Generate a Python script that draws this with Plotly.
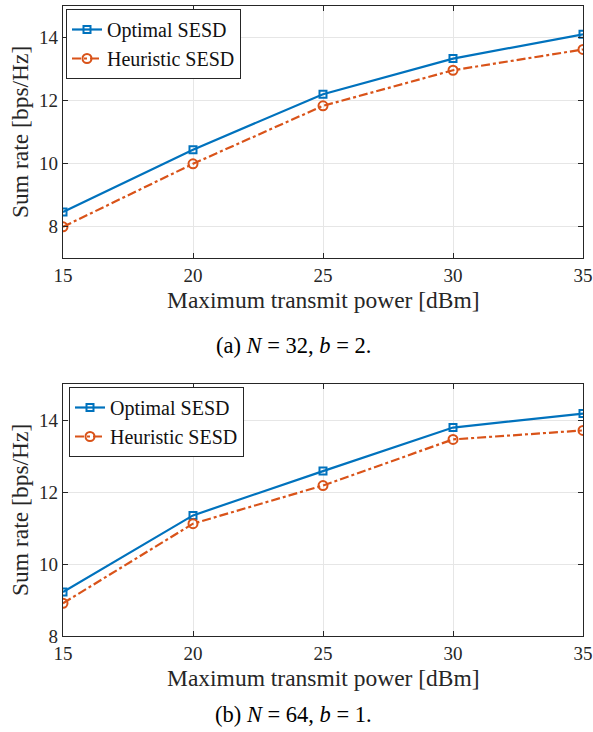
import plotly.graph_objects as go
from plotly.subplots import make_subplots

power_dbm = [15, 20, 25, 30, 35]
x_ticks = [15, 20, 25, 30, 35]

optimal_a = [8.46, 10.44, 12.2, 13.33, 14.1]
heuristic_a = [7.99, 9.99, 11.83, 12.96, 13.62]
optimal_b = [9.22, 11.35, 12.58, 13.79, 14.18]
heuristic_b = [8.91, 11.12, 12.18, 13.46, 13.71]

yticks_a = [8, 10, 12, 14]
yticks_b = [8, 10, 12, 14]

series_names = ["Optimal SESD", "Heuristic SESD"]
captions = ["(a) <i>N</i> = 32, <i>b</i> = 2.", "(b) <i>N</i> = 64, <i>b</i> = 1."]

BLUE = "#0072BD"
ORANGE = "#D95319"
FONT = "Liberation Serif, Times New Roman, serif"
AX = "#262626"

fig = make_subplots(rows=2, cols=1)

def add_pair(row, opt, heu, legend):
    fig.add_trace(go.Scatter(x=power_dbm, y=opt, name=series_names[0], mode="lines+markers",
                             line=dict(color=BLUE, width=2.2),
                             marker=dict(symbol="square-open", size=7, color=BLUE, line=dict(width=2)),
                             legend=legend), row=row, col=1)
    fig.add_trace(go.Scatter(x=power_dbm, y=heu, name=series_names[1], mode="lines+markers",
                             line=dict(color=ORANGE, width=2.2, dash="dashdot"),
                             marker=dict(symbol="circle-open", size=9, color=ORANGE, line=dict(width=2)),
                             legend=legend), row=row, col=1)

add_pair(1, optimal_a, heuristic_a, "legend")
add_pair(2, optimal_b, heuristic_b, "legend2")

W, H = 593, 732
x0, x1 = 63 / W, 583 / W
dom_a = [1 - 258 / H, 1 - 6 / H]
dom_b = [1 - 636 / H, 1 - 384 / H]

axcommon = dict(showline=True, linecolor=AX, linewidth=1.2, mirror="ticks", ticks="inside",
                ticklen=5, tickcolor=AX, showgrid=True, gridcolor="#E6E6E6", gridwidth=1,
                zeroline=False, automargin=False, ticklabeloverflow="allow",
                tickfont=dict(family=FONT, size=19, color=AX))

fig.update_xaxes(**axcommon, range=[15, 35], tickvals=x_ticks, domain=[x0, x1])
fig.update_yaxes(**axcommon)
fig.update_yaxes(range=[7, 15], tickvals=yticks_a, domain=dom_a, row=1, col=1)
fig.update_yaxes(range=[8, 15], tickvals=yticks_b, domain=dom_b, row=2, col=1)

legend_style = dict(bgcolor="white", bordercolor=AX, borderwidth=1,
                    font=dict(family=FONT, size=20, color="#111111"),
                    xanchor="left", yanchor="top", tracegroupgap=0, itemwidth=30)
fig.update_layout(
    width=W, height=H, margin=dict(l=0, r=0, t=0, b=0, pad=0),
    paper_bgcolor="white", plot_bgcolor="white",
    legend=dict(**legend_style, x=66 / W, y=1 - 9 / H),
    legend2=dict(**legend_style, x=69 / W, y=1 - 387 / H),
)

ann = []
caption_y = [345, 714]
for i, (top, bot) in enumerate([(6, 258), (384, 636)]):
    ann.append(dict(text="Maximum transmit power [dBm]", x=(x0 + x1) / 2, y=1 - (bot + 42) / H,
                    xref="paper", yref="paper", showarrow=False, xanchor="center", yanchor="middle",
                    font=dict(family=FONT, size=23.5, color=AX)))
    ann.append(dict(text="Sum rate [bps/Hz]", x=20 / W, y=1 - ((top + bot) / 2) / H, textangle=-90,
                    xref="paper", yref="paper", showarrow=False, xanchor="center", yanchor="middle",
                    font=dict(family=FONT, size=23.5, color=AX)))
    ann.append(dict(text=captions[i], x=293 / W, y=1 - caption_y[i] / H,
                    xref="paper", yref="paper", showarrow=False, xanchor="center", yanchor="middle",
                    font=dict(family=FONT, size=22.5, color="black")))
fig.update_layout(annotations=ann)

fig.write_html("out.html", config={"displayModeBar": False},
               post_script="document.body.style.margin='0';")
